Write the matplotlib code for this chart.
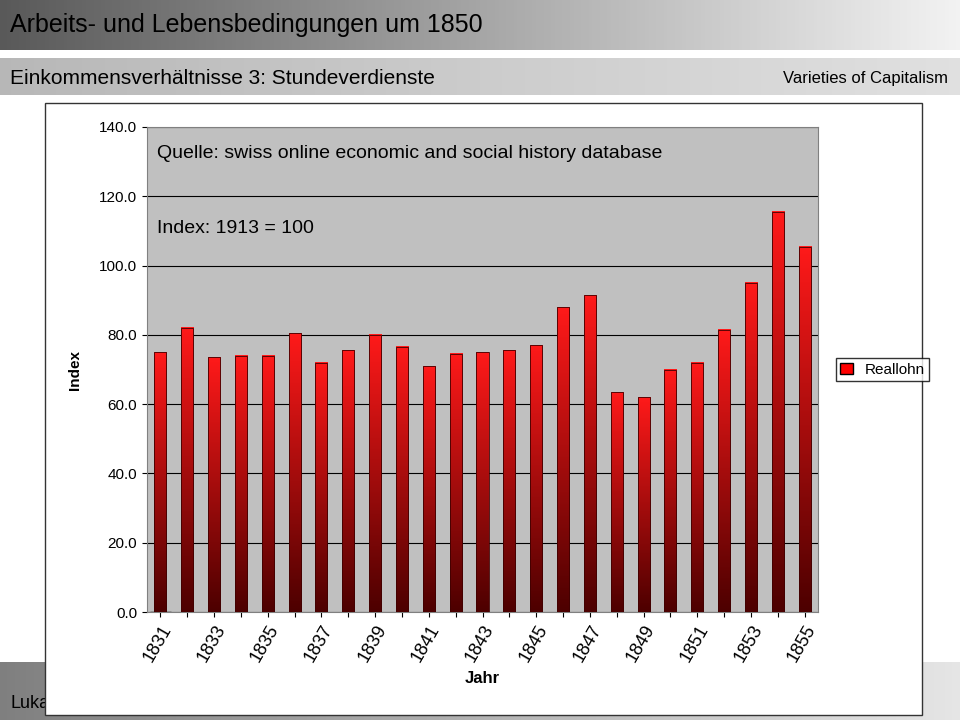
import numpy as np
import matplotlib.pyplot as plt
from matplotlib.patches import Rectangle

plt.rcParams['font.family'] = 'Liberation Sans'

years = list(range(1831, 1856))
reallohn = [75.0, 82.0, 73.5, 74.0, 74.0, 80.5, 72.0, 75.5, 80.0, 76.5, 71.0, 74.5, 75.0,
            75.5, 77.0, 88.0, 91.5, 63.5, 62.0, 70.0, 72.0, 81.5, 95.0, 115.5, 105.5]
yticks = [0, 20, 40, 60, 80, 100, 120, 140]

fig = plt.figure(figsize=(9.6, 7.2), dpi=100)
bg = fig.add_axes([0, 0, 1, 1])
bg.set_xlim(0, 960)
bg.set_ylim(720, 0)
bg.axis('off')

def grad_band(y0, y1, c0, c1):
    g = np.linspace(0, 1, 256)[None, :, None]
    img = np.array(c0)[None, None, :] * (1 - g) + np.array(c1)[None, None, :] * g
    bg.imshow(img, extent=[0, 960, y1, y0], aspect='auto', zorder=0)

grad_band(0, 50, (0.35, 0.35, 0.35), (0.95, 0.95, 0.95))
grad_band(58, 95, (0.72, 0.72, 0.72), (0.88, 0.88, 0.88))
grad_band(662, 720, (0.5, 0.5, 0.5), (0.9, 0.9, 0.9))
bg.text(10, 25, "Arbeits- und Lebensbedingungen um 1850", fontsize=18, va='center', color='black')
bg.text(10, 78, "Einkommensverhältnisse 3: Stundeverdienste", fontsize=15, va='center')
bg.text(948, 78, "Varieties of Capitalism", fontsize=12, va='center', ha='right')
bg.text(10, 704, "Lukas", fontsize=13, va='center', zorder=1)
bg.add_patch(Rectangle((45, 103), 877, 612, facecolor='white', edgecolor='#333333', lw=1, zorder=2))
bg.set_xlim(0, 960)
bg.set_ylim(720, 0)

ax = fig.add_axes([147/960, 1-612/720, 671/960, 485/720])
ax.set_facecolor('#c0c0c0')
x = np.arange(len(years))
w = 0.45
grad = np.linspace(0, 1, 256)[:, None, None]
top = np.array([1.0, 0.1, 0.1])
bot = np.array([0.3, 0.0, 0.0])
img = bot * (1 - grad) + top * grad
for xi, v in zip(x, reallohn):
    ax.imshow(img, extent=[xi - w/2, xi + w/2, 0, v], origin='lower', aspect='auto', zorder=3)
    ax.add_patch(Rectangle((xi - w/2, 0), w, v, fill=False, edgecolor='#400000', lw=0.6, zorder=4))
ax.bar([0], [0], color='red', edgecolor='black', label='Reallohn')
ax.set_xlim(-0.5, len(years) - 0.5)
ax.set_ylim(0, 140)
ax.set_yticks(yticks)
ax.set_yticklabels([f"{t:.1f}" for t in yticks], fontsize=11)
ax.yaxis.grid(True, color='black', lw=0.8, zorder=1)
ax.set_axisbelow(True)
ax.set_xticks(x)
ax.set_xticklabels([str(y) if (y - 1831) % 2 == 0 else '' for y in years],
                   rotation=60, ha='right', rotation_mode='anchor', fontsize=13)
ax.set_ylabel("Index", fontsize=11, fontweight='bold', labelpad=12)
ax.set_xlabel("Jahr", fontsize=12, fontweight='bold', labelpad=4)
for s in ax.spines.values():
    s.set_color('#808080')
ax.text(0.015, 0.945, "Quelle: swiss online economic and social history database",
        transform=ax.transAxes, fontsize=14, va='center')
ax.text(0.015, 0.79, "Index: 1913 = 100", transform=ax.transAxes, fontsize=14, va='center')
ax.legend(loc='center left', bbox_to_anchor=(1.015, 0.5), fontsize=11, frameon=True,
          fancybox=False, edgecolor='black', handlelength=0.8, borderpad=0.3)

fig.savefig("out.png", dpi=100)
